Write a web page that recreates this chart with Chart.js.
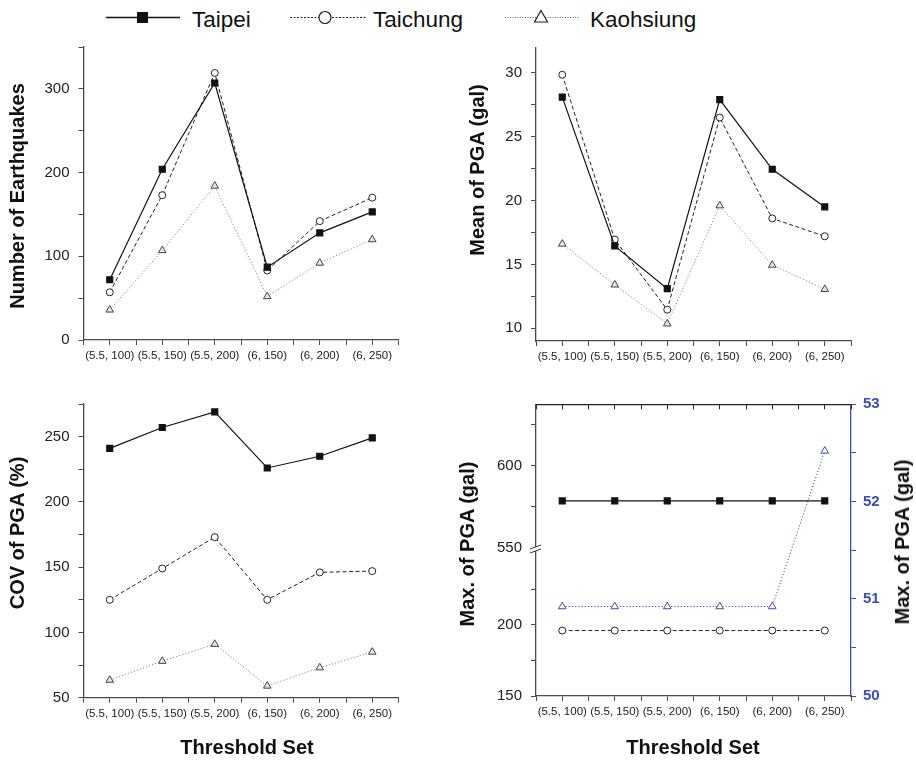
<!DOCTYPE html>
<html>
<head>
<meta charset="utf-8">
<script src="https://cdn.jsdelivr.net/npm/chart.js"></script>
<style>
  body { margin: 0; background: #fff; width: 916px; height: 761px; position: relative; overflow: hidden;
         font-family: "Liberation Sans", Arial, sans-serif; color: #111; }
  canvas { position: absolute; }
  .ttl { position: absolute; font-weight: bold; font-size: 20px; line-height: 1; white-space: nowrap; color: #111; }
  .rot { transform: translate(-50%, -50%) rotate(-90deg); }
  .hz { transform: translate(-50%, -50%); }
  #legend { position: absolute; left: 0; top: 0; }
</style>
</head>
<body>
<svg id="legend" width="916" height="40">
  <g font-family="Liberation Sans, Arial, sans-serif" font-size="22.5" fill="#111">
    <line x1="106" y1="17.5" x2="180" y2="17.5" stroke="#111" stroke-width="1.3"/>
    <rect x="137" y="12" width="11" height="11" fill="#111"/>
    <text x="192" y="27">Taipei</text>
    <line x1="290" y1="17.5" x2="367" y2="17.5" stroke="#222" stroke-width="1" stroke-dasharray="2 1.5"/>
    <circle cx="325" cy="17.5" r="6" fill="#fff" stroke="#222" stroke-width="1.2"/>
    <text x="373" y="27">Taichung</text>
    <line x1="505" y1="17.5" x2="580" y2="17.5" stroke="#666" stroke-width="1" stroke-dasharray="1 1.5"/>
    <polygon points="541,10.5 547.5,22 534.5,22" fill="#fff" stroke="#222" stroke-width="1.2"/>
    <text x="590" y="27">Kaohsiung</text>
  </g>
</svg>

<canvas id="countChart" width="460" height="340" style="left:0;top:40px"></canvas>
<canvas id="meanChart" width="456" height="340" style="left:460px;top:40px"></canvas>
<canvas id="covChart" width="460" height="381" style="left:0;top:380px"></canvas>
<canvas id="maxChart" width="456" height="381" style="left:460px;top:380px"></canvas>

<div class="ttl rot" style="left:16.5px;top:196px">Number of Earthquakes</div>
<div class="ttl rot" style="left:477px;top:170px">Mean of PGA (gal)</div>
<div class="ttl rot" style="left:16.5px;top:533px">COV of PGA (%)</div>
<div class="ttl rot" style="left:467px;top:544px">Max. of PGA (gal)</div>
<div class="ttl rot" style="left:902px;top:542px">Max. of PGA (gal)</div>
<div class="ttl hz" style="left:247px;top:747px">Threshold Set</div>
<div class="ttl hz" style="left:693px;top:747px">Threshold Set</div>

<script>
const thresholdSets = ['(5.5, 100)', '(5.5, 150)', '(5.5, 200)', '(6, 150)', '(6, 200)', '(6, 250)'];
const cityNames = ['Taipei', 'Taichung', 'Kaohsiung'];

// number of earthquakes
const countTaipei = [72, 204, 307, 87, 128, 153];
const countTaichung = [57, 173, 319, 83, 142, 170];
const countKaohsiung = [36, 107, 184, 52, 92, 120];

// mean of PGA (gal)
const meanTaipei = [28.1, 16.45, 13.1, 27.9, 22.45, 19.5];
const meanTaichung = [29.85, 16.95, 11.45, 26.5, 18.6, 17.2];
const meanKaohsiung = [16.6, 13.4, 10.35, 19.6, 14.95, 13.05];

// COV of PGA (%)
const covTaipei = [241, 257, 269, 226, 235, 249];
const covTaichung = [125, 149, 173, 125, 146, 147];
const covKaohsiung = [63.5, 78, 91, 59, 73, 85];

// max of PGA (gal); Kaohsiung goes on the right-hand axis
const maxTaipei = [578.5, 578.5, 578.5, 578.5, 578.5, 578.5];
const maxTaichung = [196, 196, 196, 196, 196, 196];
const maxKaohsiung = [50.92, 50.92, 50.92, 50.92, 50.92, 52.52];

Chart.defaults.font.family = '"Liberation Sans", Arial, sans-serif';

const axisGrey = '#4a4a4a';
const maxBlue = '#3a4db5';

// force the axis box size so every panel lines up
function sizeTo(w, h) {
  return scale => {
    if (w !== null) scale.width = w;
    if (h !== null) scale.height = h;
    scale.paddingLeft = scale.paddingRight = scale.paddingTop = scale.paddingBottom = 0;
  };
}

function xScale(h) {
  return {
    type: 'linear', position: 'bottom', min: -0.5, max: 5.5,
    border: {color: axisGrey, width: 1.3},
    grid: {drawOnChartArea: false, color: axisGrey, tickLength: 5, tickWidth: 1},
    ticks: {
      stepSize: 0.5, autoSkip: false, maxRotation: 0, padding: 4, color: '#222',
      font: {size: 11.5},
      callback: v => Number.isInteger(v) ? thresholdSets[v] : ''
    },
    afterFit: sizeTo(null, h)
  };
}

// labelTest decides which tick values get a number
function yScale(min, max, step, labelTest, w, extra) {
  return Object.assign({
    type: 'linear', position: 'left', min: min, max: max,
    border: {color: axisGrey, width: 1.3},
    grid: {drawOnChartArea: false, color: axisGrey, tickLength: 5, tickWidth: 1},
    ticks: {
      stepSize: step, includeBounds: false, padding: 9, color: '#222', font: {size: 15},
      callback: v => labelTest(v) ? v : ''
    },
    afterFit: sizeTo(w, null)
  }, extra || {});
}

const every = n => v => Math.abs(v / n - Math.round(v / n)) < 1e-6;

function cityLines(taipei, taichung, kaohsiung, axisIds, kaoLine, kaoStroke, kaoFill) {
  const pts = arr => arr.map((v, i) => ({x: i, y: v}));
  return [
    {label: cityNames[0], data: pts(taipei), yAxisID: axisIds[0],
     borderColor: '#111', borderWidth: 1.2,
     pointStyle: 'rect', pointRadius: 4.2, pointBackgroundColor: '#111', pointBorderColor: '#111'},
    {label: cityNames[1], data: pts(taichung), yAxisID: axisIds[1],
     borderColor: '#222', borderWidth: 1, borderDash: [4, 2.5],
     pointStyle: 'circle', pointRadius: 3.5, pointBackgroundColor: '#fff', pointBorderColor: '#222'},
    {label: cityNames[2], data: pts(kaohsiung), yAxisID: axisIds[2],
     borderColor: kaoLine, borderWidth: 1, borderDash: [1.2, 2],
     pointStyle: 'triangle', pointRadius: 4.4, pointBackgroundColor: kaoFill, pointBorderColor: kaoStroke}
  ];
}

function drawPanel(id, datasets, scales, padding, plugins) {
  return new Chart(document.getElementById(id), {
    type: 'line',
    data: {datasets: datasets},
    options: {
      responsive: false, animation: false, devicePixelRatio: 1,
      layout: {padding: padding},
      elements: {line: {tension: 0}},
      clip: false,
      plugins: {legend: {display: false}, tooltip: {enabled: false}},
      scales: scales
    },
    plugins: plugins || []
  });
}

// top left: number of earthquakes
drawPanel('countChart',
  cityLines(countTaipei, countTaichung, countKaohsiung, ['y', 'y', 'y'], '#888', '#444', '#e4e4e4'),
  {x: xScale(40), y: yScale(0, 350, 50, every(100), 83.5)},
  {top: 7, right: 61.5, left: 0, bottom: 0});

// top right: mean PGA
drawPanel('meanChart',
  cityLines(meanTaipei, meanTaichung, meanKaohsiung, ['y', 'y', 'y'], '#888', '#444', '#e4e4e4'),
  {x: xScale(39), y: yScale(9, 32, 2.5, every(5), 76)},
  {top: 7.3, right: 65, left: 0, bottom: 0});

// bottom left: COV of PGA
drawPanel('covChart',
  cityLines(covTaipei, covTaichung, covKaohsiung, ['y', 'y', 'y'], '#888', '#444', '#e4e4e4'),
  {x: xScale(63.3), y: yScale(50, 275, 25, every(50), 83.5)},
  {top: 24, right: 61.5, left: 0, bottom: 0});

// bottom right: max PGA with a broken left axis and a blue right axis
const axisBreak = {
  id: 'axisBreak',
  afterDraw(chart) {
    const s = chart.scales.yLow;
    const x = s.right, y = s.top;
    const ctx = chart.ctx;
    ctx.save();
    ctx.fillStyle = '#fff';
    ctx.beginPath();
    ctx.moveTo(x - 6, y + 1); ctx.lineTo(x + 5, y - 3);
    ctx.lineTo(x + 5, y + 1); ctx.lineTo(x - 6, y + 5);
    ctx.closePath();
    ctx.fill();
    ctx.strokeStyle = '#333';
    ctx.lineWidth = 1;
    ctx.beginPath();
    ctx.moveTo(x - 6, y + 1); ctx.lineTo(x + 5, y - 3);
    ctx.moveTo(x - 6, y + 5); ctx.lineTo(x + 5, y + 1);
    ctx.stroke();
    ctx.restore();
  }
};

// left boxes are stacked in reverse order, so the lower segment is listed first
drawPanel('maxChart',
  cityLines(maxTaipei, maxTaichung, maxKaohsiung, ['yUp', 'yLow', 'y2'], maxBlue, maxBlue, '#fff'),
  {
    x: xScale(65),
    xTop: {
      type: 'linear', position: 'top', min: -0.5, max: 5.5,
      border: {color: '#222', width: 1.3},
      grid: {drawOnChartArea: false, color: '#222', tickLength: -5, tickWidth: 1},
      ticks: {stepSize: 0.5, autoSkip: false, maxRotation: 0, callback: () => ''},
      afterFit: sizeTo(null, 0)
    },
    yLow: yScale(150, 254, 25, v => v === 150 || v === 200, 76, {stack: 'maxPga', stackWeight: 148,
      grid: {drawOnChartArea: false, tickLength: 5, tickWidth: 1,
        tickColor: c => (c.tick && c.tick.value === 250) ? 'rgba(0,0,0,0)' : axisGrey}}),
    yUp: yScale(550, 637, 25, every(50), 76, {stack: 'maxPga', stackWeight: 143.7}),
    y2: {
      type: 'linear', position: 'right', min: 50, max: 53,
      border: {color: maxBlue, width: 1.3},
      grid: {drawOnChartArea: false, color: maxBlue, tickLength: 5, tickWidth: 1},
      ticks: {stepSize: 0.5, padding: 7, color: maxBlue, font: {size: 15, weight: 'bold'},
        callback: v => Number.isInteger(v) ? v : ''},
      afterFit: sizeTo(65, null)
    }
  },
  {top: 24.3, right: 0, left: 0, bottom: 0},
  [axisBreak]);
</script>
</body>
</html>
